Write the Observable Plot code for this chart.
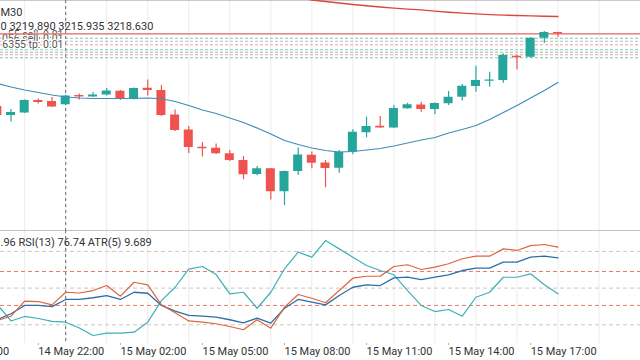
<!DOCTYPE html>
<html><head><meta charset="utf-8">
<script src="https://cdn.jsdelivr.net/npm/d3@7"></script>
<script src="https://cdn.jsdelivr.net/npm/@observablehq/plot@0.6"></script>
<style>
html,body{margin:0;padding:0;background:#fff;}
#wrap{position:relative;width:640px;height:360px;overflow:hidden;font-family:Roboto,"Noto Sans",sans-serif;}
#main{position:absolute;left:0;top:0;}
#sub{position:absolute;left:0;top:230px;}
svg{display:block;}
</style></head><body><div id="wrap"><div id="main"></div><div id="sub"></div></div>
<script>
// ---- candles (XAUUSD M30), index 0..41 ----
const open  = [3160.5,3153.3,3155.3,3165.3,3164.5,3161.9,3169.3,3168.1,3169.7,3172.7,3166.1,3175.1,3173.3,3153.7,3141.7,3127.9,3127.1,3122.7,3117.3,3106.1,3110.7,3092.3,3108.5,3121.5,3115.3,3111.1,3123.9,3139.5,3144.7,3143.3,3158.7,3161.7,3158.1,3162.7,3167.9,3176.5,3180.7,3181.3,3200.7,3199.9,3215.1,3219.7];
const high  = [3160.9,3158.1,3165.7,3166.5,3167.7,3169.3,3170.5,3171.7,3174.9,3173.3,3175.3,3181.7,3177.3,3157.7,3144.5,3131.7,3130.5,3125.3,3120.5,3112.5,3110.9,3108.9,3127.3,3124.1,3117.3,3125.3,3141.9,3151.9,3152.5,3161.3,3163.1,3163.9,3163.3,3172.5,3178.1,3192.7,3187.9,3202.7,3201.3,3215.5,3220.6,3219.89];
const low   = [3152.9,3148.1,3154.9,3162.5,3159.7,3161.3,3165.7,3167.7,3168.9,3165.3,3165.7,3168.9,3152.5,3140.5,3122.9,3120.1,3122.1,3116.5,3101.9,3105.1,3085.7,3081.3,3105.3,3110.7,3095.5,3107.1,3121.9,3135.5,3143.1,3142.9,3158.3,3155.9,3153.9,3161.3,3164.9,3171.9,3175.9,3179.1,3189.9,3199.1,3210.9,3215.935];
const close = [3153.3,3155.7,3165.3,3163.7,3160.1,3168.9,3168.1,3169.7,3172.9,3166.1,3174.9,3173.3,3153.3,3141.3,3127.7,3126.7,3122.7,3117.3,3105.9,3110.7,3092.3,3108.5,3121.7,3115.1,3110.9,3123.9,3139.9,3144.5,3143.3,3158.9,3161.9,3158.1,3162.9,3167.9,3176.7,3181.3,3181.7,3201.3,3199.5,3215.1,3219.7,3218.63];

// moving averages
const fastMA = [3178.9,3176.1,3173.7,3171.7,3169.7,3168.1,3167.3,3166.9,3166.9,3166.9,3167.1,3167.3,3166.7,3164.5,3161.3,3157.7,3154.9,3151.3,3147.7,3143.3,3138.5,3133.3,3130.1,3127.3,3125.3,3124.1,3124.5,3125.7,3126.9,3128.9,3131.3,3133.7,3135.7,3139.3,3142.1,3145.3,3150.1,3155.7,3161.3,3167.3,3173.3,3179.7];
const slowMAFrom = 21;
const slowMA = [3249.7,3247.7,3245.7,3244.5,3243.3,3242.1,3241.1,3240.1,3239.2,3238.4,3237.8,3236.8,3235.9,3235.2,3234.6,3234.0,3233.6,3233.3,3233.0,3232.7,3232.5];

// price lines
const bid = 3218.63;
const levelsTeal  = [3215.1, 3205.9, 3199.5];
const levelsGray  = [3212.7];
const levelsRed   = [3209.9, 3201.9];
const levelsGreen = [3203.9];
const orderLabels = ["55 sell, 0.01", "056 sell, 0.01", "6355 tp: 0.01"];
const orderLabelPrices = [3218.4, 3214.8, 3209.9];

// oscillator window (0-100 units)
const ind1  = [23.5,27.0,39.4,39.0,36.3,46.6,46.0,48.0,52.1,43.4,54.8,52.7,36.3,29.8,23.1,22.1,20.8,18.6,15.9,24.1,17.2,34.4,44.8,41.7,38.0,48.0,58.1,59.7,59.7,67.7,69.1,65.2,67.1,69.9,74.0,76.1,76.1,82.1,80.8,84.8,85.7,83.5];
const rsi13 = [24.3,29.0,35.8,35.8,34.9,40.7,40.7,42.1,43.9,40.7,46.6,45.8,35.8,31.1,27.6,27.0,26.2,24.1,21.6,25.4,21.3,33.5,40.7,38.5,36.3,43.9,50.7,52.7,52.1,58.4,58.9,57.0,58.9,60.9,64.4,66.3,66.3,71.2,71.2,75.3,76.1,74.8];
const atr5  = [36.6,23.1,26.8,25.1,22.7,22.1,17.3,11.2,13.1,13.1,13.9,22.1,39.8,50.7,65.6,67.7,61.1,45.3,46.6,33.5,46.6,65.8,79.4,75.3,88.9,82.1,75.3,68.5,64.4,60.9,48.0,35.8,30.8,32.5,27.0,42.5,46.6,58.9,58.9,61.7,52.7,45.3];
const oscLevelsGray = [80, 50, 20];
const oscLevelsRed  = [63.6, 35.8];

// time axis
const tickIdx    = [-3, 3, 9, 15, 21, 27, 33, 39];
const tickLabels = ["14 May 19:00","14 May 22:00","15 May 02:00","15 May 05:00","15 May 08:00","15 May 11:00","15 May 14:00","15 May 17:00"];
const gridIdx = [2,5,8,11,14,17,20,23,26,29,32,35,38,41,44];
const crossIdx = 5;

const headerTop = "M30";
const headerOHLC = "0 3219.890 3215.935 3218.630";
const subHeader = ".96 RSI(13) 76.74 ATR(5) 9.689";

// ---- build ----
const UP = "#26a69a", DOWN = "#ef5350";
const candles = open.map((o, i) => ({i, open: o, high: high[i], low: low[i], close: close[i], col: close[i] >= o ? UP : DOWN}));
const slow = slowMA.map((v, k) => ({i: slowMAFrom + k, v}));
const xOpt = {domain: [0, 41], range: [-3.175, 557.5], axis: null};
const font = "Roboto, 'Noto Sans', sans-serif";
const orderTexts = orderLabels.map((t, k) => ({t, p: orderLabelPrices[k]}));

const main = Plot.plot({
  width: 640, height: 230, margin: 0,
  x: xOpt,
  y: {domain: [3061.3, 3245.3], range: [230, 0], axis: null},
  color: {type: "identity"},
  style: {fontFamily: font, background: "#fff", overflow: "hidden"},
  marks: [
    Plot.ruleX(gridIdx, {x: d => d, stroke: "#ececec", strokeWidth: 1}),
    Plot.ruleY([3245.3], {stroke: "#c8c8c8"}),
    Plot.ruleX([crossIdx], {x: d => d, stroke: "#6a6a6a", strokeDasharray: "3,3"}),
    Plot.ruleY(levelsTeal, {stroke: "#52b3ad", strokeDasharray: "3,2", strokeOpacity: 0.75}),
    Plot.ruleY(levelsGray, {stroke: "#9aa5a5", strokeDasharray: "3,2", strokeOpacity: 0.75}),
    Plot.ruleY(levelsRed, {stroke: "#ec8a80", strokeDasharray: "3,2", strokeOpacity: 0.8}),
    Plot.ruleY(levelsGreen, {stroke: "#6fbf7f", strokeDasharray: "3,2", strokeOpacity: 0.8}),
    Plot.text(orderTexts, {y: "p", text: "t", frameAnchor: "left", dx: 63, textAnchor: "end", fontSize: 10.5, fill: "#555", stroke: "#fff", strokeWidth: 2.5, paintOrder: "stroke"}),
    Plot.ruleY([bid], {stroke: "#e0665c", strokeWidth: 1.3}),
    Plot.ruleX(candles, {x: "i", y1: "low", y2: "high", stroke: "col", strokeWidth: 1.2}),
    Plot.rect(candles, {x1: d => d.i - 0.33, x2: d => d.i + 0.33, y1: "open", y2: "close", fill: "col"}),
    Plot.line(slow, {x: "i", y: "v", stroke: "#d9483c", strokeWidth: 1.4, clip: true}),
    Plot.line(fastMA, {x: (d, i) => i, y: d => d, stroke: "#3f8db5", strokeWidth: 1.2}),
    Plot.text([headerTop], {text: d => d, frameAnchor: "top-left", dy: 8, textAnchor: "start", fontSize: 11, fill: "#333"}),
    Plot.text([headerOHLC], {text: d => d, frameAnchor: "top-left", dy: 22, textAnchor: "start", fontSize: 11, fill: "#333"})
  ]
});
document.getElementById("main").append(main);

const sub = Plot.plot({
  width: 640, height: 130, margin: 0,
  x: xOpt,
  y: {domain: [4.66, 97.14], range: [113, 0], axis: null},
  style: {fontFamily: font, background: "#fff", overflow: "hidden"},
  marks: [
    Plot.ruleX(gridIdx, {x: d => d, stroke: "#ececec", insetBottom: 17}),
    Plot.ruleY([97.14], {stroke: "#c4c4c4"}),
    Plot.ruleY(oscLevelsGray, {stroke: "#d2c4c4", strokeDasharray: "4,3"}),
    Plot.ruleY(oscLevelsRed, {stroke: "#e87a70", strokeDasharray: "4,3"}),
    Plot.ruleX([crossIdx], {x: d => d, stroke: "#6a6a6a", strokeDasharray: "3,3", insetBottom: 17}),
    Plot.line(atr5, {x: (d, i) => i, y: d => d, stroke: "#3cb0b6", strokeWidth: 1.2}),
    Plot.line(rsi13, {x: (d, i) => i, y: d => d, stroke: "#2c6eaa", strokeWidth: 1.3}),
    Plot.line(ind1, {x: (d, i) => i, y: d => d, stroke: "#dc643e", strokeWidth: 1.2}),
    Plot.text([subHeader], {text: d => d, frameAnchor: "top-left", dy: 8, textAnchor: "start", fontSize: 11, fill: "#333"}),
    Plot.ruleX(tickIdx.slice(1), {x: d => d, stroke: "#aaa", insetTop: 113, insetBottom: 15}),
    Plot.text(tickIdx.slice(0, 1), {x: d => d, text: (d, i) => tickLabels[i], frameAnchor: "bottom", dy: -6, dx: -13, textAnchor: "start", fontSize: 11, fill: "#333"}),
    Plot.text(tickIdx.slice(1), {x: d => d, text: (d, i) => tickLabels[i + 1], frameAnchor: "bottom", dy: -6, textAnchor: "start", fontSize: 11, fill: "#333"})
  ]
});
document.getElementById("sub").append(sub);
</script></body></html>
